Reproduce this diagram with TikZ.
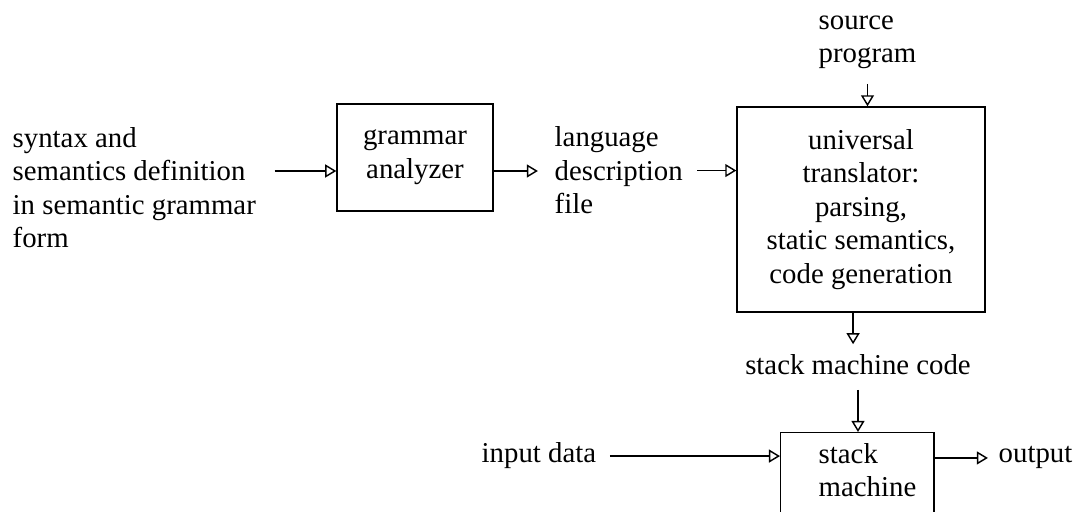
\documentclass[tikz,border=0pt]{standalone}
\usepackage{fontspec}
\setmainfont{Liberation Serif}
\usetikzlibrary{arrows.meta,positioning}

\begin{document}
\begin{tikzpicture}[x=0.4167pt, y=-0.4167pt, >={Triangle[open,length=4.6pt,width=5.4pt]},
  font=\fontsize{12pt}{14pt}\selectfont, line width=0.6pt,
  txt/.style={inner sep=0pt, align=left, anchor=base west},
  blk/.style={draw, inner sep=0pt, align=center}]
  \useasboundingbox (0,0) rectangle (1078,512);
  \clip (0,0) rectangle (1078,512);
  % blocks and texts (multi-line texts sit on their last line)
  \node[txt] (def) at (12,248) {syntax and\\semantics definition\\in semantic grammar\\form};
  \node[blk, minimum width=65pt, minimum height=44.6pt] (gram) at (415,157.5) {grammar\\analyzer};
  \node[txt] (lang) at (554,214) {language\\description\\file};
  \node[txt] (srcprog) at (818,63) {source\\program};
  \node[blk, minimum width=103.3pt, minimum height=85.4pt] (univ) at (861,209.5)
    {universal\\translator:\\parsing,\\static semantics,\\code generation};
  \node[txt, anchor=base] (smc) at (858,375) {stack machine code};
  \node[draw, anchor=north west, minimum width=63.8pt, minimum height=45pt] (stk) at (780,432) {};
  \node[txt] (stktxt) at (818,497) {stack\\machine};
  \node[txt] (inp) at (481,463) {input data};
  \node[txt] (out) at (998,463) {output};
  % connectors
  \coordinate (row) at (0,171);
  \draw[->, shorten <=7.5pt] (def.east |- row) -- (gram.west |- row);
  \draw[->, shorten >=6.7pt] (gram.east |- row) -- (lang.west |- row);
  \draw[->, shorten <=5.8pt] (lang.east) -- (lang.east -| univ.west);
  \draw[->, shorten <=5.8pt] (srcprog.south) -- (srcprog.south |- univ.north);
  \draw[->, shorten >=4.2pt] ([xshift=-3.3pt]univ.south) -- ([xshift=-3.3pt]univ.south |- smc.north);
  \draw[->, shorten <=5.8pt] (smc.south) -- (smc.south |- stk.north);
  \draw[->, shorten <=5.4pt] (inp.east) -- (inp.east -| stk.west);
  \draw[->, shorten >=4.2pt] (out.west -| stk.east) -- (out.west);
\end{tikzpicture}
\end{document}
